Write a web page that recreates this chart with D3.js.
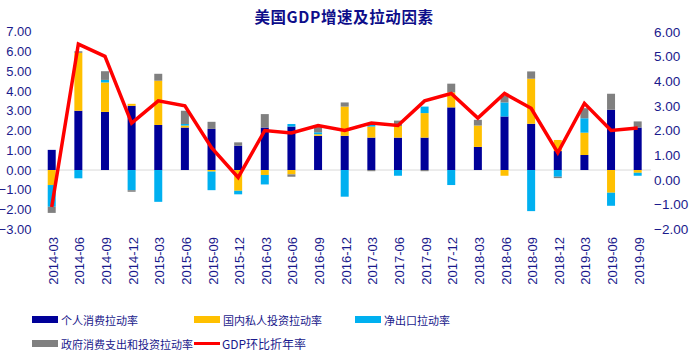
<!DOCTYPE html>
<html><head><meta charset="utf-8">
<script src="https://cdn.jsdelivr.net/npm/d3@7"></script>
<style>body{margin:0;background:#fff}svg{display:block}</style>
</head><body>
<svg id="c" width="693" height="359"></svg>
<script>
const categories = ["2014-03","2014-06","2014-09","2014-12","2015-03","2015-06","2015-09","2015-12","2016-03","2016-06","2016-09","2016-12","2017-03","2017-06","2017-09","2017-12","2018-03","2018-06","2018-09","2018-12","2019-03","2019-06","2019-09"];
const personal = [1.02,3.00,2.94,3.25,2.28,2.15,2.08,1.23,2.15,2.20,1.73,1.73,1.64,1.64,1.64,3.17,1.17,2.71,2.34,0.96,0.76,3.05,2.15];
const investment = [-0.76,2.93,1.49,0.10,2.24,0.10,-0.08,-1.05,-0.25,-0.22,0.08,1.48,0.56,0.59,1.24,0.76,1.08,-0.29,2.28,0.56,1.13,-1.15,-0.14];
const netExport = [-1.10,-0.42,0.13,-1.02,-1.61,0.08,-0.94,-0.18,-0.48,0.13,0.10,-1.35,0.13,-0.29,0.33,-0.76,0.00,0.71,-2.08,-0.34,0.73,-0.66,-0.15];
const government = [-0.31,0.08,0.44,-0.08,0.35,0.67,0.36,0.17,0.68,-0.12,0.29,0.21,-0.06,0.27,-0.06,0.44,0.29,0.34,0.37,-0.07,0.51,0.81,0.31];
const gdpGrowth = [-1.1,5.5,5.0,2.3,3.2,3.0,1.3,0.1,2.0,1.9,2.2,2.0,2.3,2.2,3.2,3.5,2.5,3.5,2.9,1.1,3.1,2.0,2.1];
const leftTicks = [-3,-2,-1,0,1,2,3,4,5,6,7];
const rightTicks = [-2,-1,0,1,2,3,4,5,6];
const seriesNames = ["个人消费拉动率","国内私人投资拉动率","净出口拉动率","政府消费支出和投资拉动率"];
const seriesColors = ["#000099","#FFC000","#00B0F0","#808080"];
const title = "美国GDP增速及拉动因素";
const lineName = "GDP环比折年率";

const svg = d3.select("#c");
const txtColor = "#1a1a8c";
const x = d3.scaleBand().domain(categories).range([38.4, 651]).paddingInner(0.7).paddingOuter(0.35);
const yL = d3.scaleLinear().domain([-3,7]).range([229.3,31.7]);
const yR = d3.scaleLinear().domain([-2,6]).range([229.3,31.7]);

// title
svg.append("text").attr("x",344).attr("y",16).attr("text-anchor","middle").attr("dominant-baseline","central")
  .attr("font-family","'Noto Sans CJK SC'").attr("font-weight","bold").attr("font-size",15.5)
  .attr("letter-spacing","0.6px").attr("fill","#0d0d8a").text(title);

// zero line
svg.append("line").attr("x1",38.4).attr("x2",651).attr("y1",yL(0)).attr("y2",yL(0)).attr("stroke","#d9d9d9").attr("stroke-width",1);

// stacked bars
const seriesData = [personal, investment, netExport, government];
const pos = categories.map(()=>0), neg = categories.map(()=>0);
seriesData.forEach((arr,si)=>{
  const g = svg.append("g");
  arr.forEach((v,i)=>{
    let y0,y1;
    if (v>=0){ y0 = pos[i]; y1 = pos[i]+v; pos[i]=y1; }
    else { y0 = neg[i]; y1 = neg[i]+v; neg[i]=y1; }
    if (v===0) return;
    g.append("rect").attr("x",x(categories[i])).attr("width",x.bandwidth())
      .attr("y",Math.min(yL(y0),yL(y1))).attr("height",Math.abs(yL(y0)-yL(y1)))
      .attr("fill",seriesColors[si]);
  });
});

// line
const cx = c => x(c)+x.bandwidth()/2;
svg.append("path").datum(gdpGrowth)
  .attr("d", d3.line().x((d,i)=>cx(categories[i])).y(d=>yR(d)))
  .attr("fill","none").attr("stroke","#FF0000").attr("stroke-width",3.5).attr("stroke-linejoin","miter");

// left axis
const axL = d3.axisLeft(yL).tickValues(leftTicks).tickFormat(d3.format(".2f")).tickSize(0).tickPadding(0);
const gL = svg.append("g").attr("transform","translate(31.5,0)").call(axL);
gL.select(".domain").remove();
gL.selectAll("text").attr("font-family","Arial, 'Liberation Sans'").attr("font-size",13).attr("fill",txtColor);

// right axis
const axR = d3.axisRight(yR).tickValues(rightTicks).tickFormat(d3.format(".2f")).tickSize(0).tickPadding(0);
const gR = svg.append("g").attr("transform","translate(654,0)").call(axR);
gR.select(".domain").remove();
gR.selectAll("text").attr("font-family","Arial, 'Liberation Sans'").attr("font-size",13.5).attr("fill",txtColor);

// x labels
const axX = d3.axisBottom(x).tickSize(0).tickPadding(0);
const gX = svg.append("g").attr("transform","translate(0,0)").call(axX);
gX.select(".domain").remove();
gX.selectAll(".tick text").attr("transform",null).attr("y",null).attr("dy",null)
  .attr("text-anchor","end").attr("dominant-baseline","central")
  .attr("transform","translate(1.5,237) rotate(-90)")
  .attr("font-family","Arial, 'Liberation Sans'").attr("font-size",13).attr("fill",txtColor);

// legend
const leg = [
  {name:seriesNames[0], color:seriesColors[0], x:32, y:319.5, type:"rect"},
  {name:seriesNames[1], color:seriesColors[1], x:194, y:319.5, type:"rect"},
  {name:seriesNames[2], color:seriesColors[2], x:355, y:319.5, type:"rect"},
  {name:seriesNames[3], color:seriesColors[3], x:32, y:343.5, type:"rect"},
  {name:lineName, color:"#FF0000", x:194, y:343.5, type:"line"}
];
leg.forEach(l=>{
  if (l.type==="rect") svg.append("rect").attr("x",l.x).attr("y",l.y-3.5).attr("width",26).attr("height",7).attr("fill",l.color);
  else svg.append("line").attr("x1",l.x).attr("x2",l.x+26).attr("y1",l.y).attr("y2",l.y).attr("stroke",l.color).attr("stroke-width",3);
  svg.append("text").attr("x",l.x+(l.type==="line"?28:29)).attr("y",l.y).attr("dominant-baseline","central")
    .attr("font-family","'Noto Sans CJK SC', Arial").attr("font-size",l.type==="line"?12:11).attr("fill",txtColor).text(l.name);
});
</script>
</body></html>
